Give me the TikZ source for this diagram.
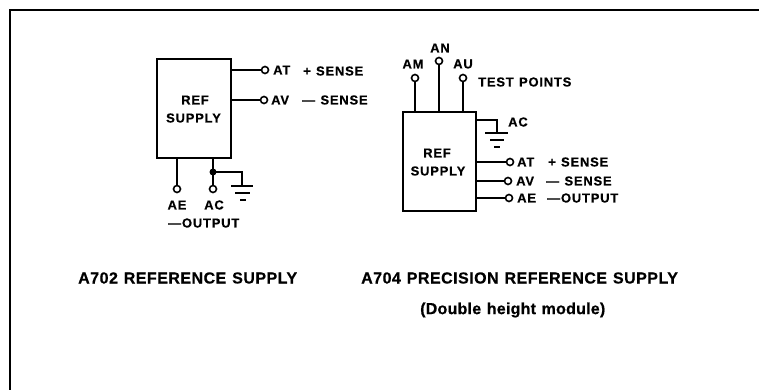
\documentclass[tikz,border=0pt]{standalone}
\usepackage{fontspec}
\setmainfont{Liberation Sans Bold}[LetterSpace=6,FakeBold=0.5,WordSpace=1.2]
\newfontfamily\ttlfont{Liberation Sans Bold}[LetterSpace=3,FakeBold=0.6,WordSpace=1.2]
\newfontfamily\subfont{Liberation Sans Bold}[LetterSpace=1.5,FakeBold=0.6,WordSpace=1.2]
\begin{document}
\begin{tikzpicture}[x=1pt,y=-1pt,
  lbl/.style={font=\fontsize{13}{15}\selectfont,inner sep=0pt,text=black,anchor=center},
  lbll/.style={lbl,anchor=west},
  ttl/.style={font=\ttlfont\fontsize{16}{18}\selectfont,inner sep=0pt,text=black,anchor=west},
  wire/.style={line width=1.8pt,line cap=butt},
  modbox/.style={draw,line width=1.8pt,inner sep=0pt,rectangle},
  term/.style={circle,draw,line width=1.6pt,fill=white,minimum size=7pt,inner sep=0pt},
  junc/.style={circle,fill=black,minimum size=7pt,inner sep=0pt},
  gnd/.style={line width=1.6pt}]
\useasboundingbox (0,0) rectangle (759,390);
\draw[line width=2.2pt] (10,390) -- (10,10) -- (759,10);
% left module
\node[modbox,minimum width=74pt,minimum height=99pt] (A) at (194,108.5) {};
\node[lbl] (Aref) at (195,100) {REF};
\node[lbl] (Asup) at (193.5,118) {SUPPLY};
\node[term] (Aat) at (265,70) {};
\node[term] (Aav) at (264,100) {};
\node[term] (Aae) at (177,189) {};
\node[term] (Aac) at (213,189) {};
\node[junc] (Aj) at (213,172) {};
\coordinate (Ag) at (242,186);
\draw[wire] (A.east |- Aat) -- (Aat);
\draw[wire] (A.east |- Aav) -- (Aav);
\draw[wire] (A.south -| Aae) -- (Aae);
\draw[wire] (A.south -| Aac) -- (Aac);
\draw[wire] (Aj.center) -| (Ag);
\draw[gnd] (231,186) -- (253,186) (235,193) -- (250,193) (240,200) -- (246,200);
\node[lbll] (Aatl) at (273,70) {AT};
\node[lbll] (Aps) at (303,71) {+ SENSE};
\node[lbll] (Aavl) at (271,100) {AV};
\node[lbll] (Ams) at (302,100) {— SENSE};
\node[lbl] (Aael) at (177,205) {AE};
\node[lbl] (Aacl) at (214,205) {AC};
\node[lbll] (Aout) at (168,223) {—OUTPUT};
% right module
\node[modbox,minimum width=73pt,minimum height=99pt] (B) at (439.5,161.5) {};
\node[lbl] (Bref) at (437,153) {REF};
\node[lbl] (Bsup) at (438,171) {SUPPLY};
\node[term] (Bam) at (415,78) {};
\node[term] (Ban) at (439,61) {};
\node[term] (Bau) at (463,78) {};
\draw[wire] (B.north -| Bam) -- (Bam);
\draw[wire] (B.north -| Ban) -- (Ban);
\draw[wire] (B.north -| Bau) -- (Bau);
\node[lbl] (Baml) at (413,64) {AM};
\node[lbl] (Banl) at (440,48) {AN};
\node[lbl] (Baul) at (463,64) {AU};
\node[lbll] (Btp) at (478,82) {TEST POINTS};
\coordinate (Bac) at (476,120);
\coordinate (Bg) at (497,133);
\draw[wire] (Bac) -| (Bg);
\draw[gnd] (485,133) -- (508,133) (490,140) -- (504,140) (494,147) -- (500,147);
\node[lbll] (Bacl) at (508,122) {AC};
\node[term] (Bat) at (510,162) {};
\node[term] (Bav) at (508,181) {};
\node[term] (Bae) at (509,198) {};
\draw[wire] (B.east |- Bat) -- (Bat);
\draw[wire] (B.east |- Bav) -- (Bav);
\draw[wire] (B.east |- Bae) -- (Bae);
\node[lbll] (Batl) at (517,162) {AT};
\node[lbll] (Bps) at (548,162) {+ SENSE};
\node[lbll] (Bavl) at (516,181) {AV};
\node[lbll] (Bms) at (546,181) {— SENSE};
\node[lbll] (Bael) at (517,198) {AE};
\node[lbll] (Bout) at (547,198) {—OUTPUT};
% titles
\node[ttl] (T1) at (78,278) {A702 REFERENCE SUPPLY};
\node[ttl] (T2) at (361,278) {A704 PRECISION REFERENCE SUPPLY};
\node[ttl,font=\subfont\fontsize{16}{18}\selectfont] (T3) at (420,310) {(Double height module)};
\end{tikzpicture}
\end{document}
